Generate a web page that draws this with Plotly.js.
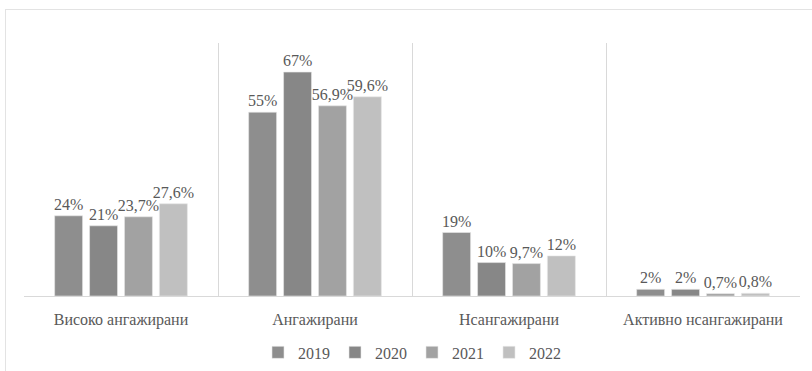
<!DOCTYPE html>
<html>
<head>
<meta charset="utf-8">
<script src="https://cdn.plot.ly/plotly-3.0.1.min.js"></script>
<style>
html,body{margin:0;padding:0;background:#fff;}
#wrap{position:absolute;left:0;top:0;width:812px;height:371px;}
#frame{position:absolute;left:5px;top:9px;width:820px;height:380px;border-left:1px solid #e3e3e3;border-top:1px solid #e3e3e3;pointer-events:none;}
#chart{position:absolute;left:0;top:0;width:812px;height:371px;}
#preload{position:absolute;left:0;top:0;font-family:'Liberation Serif';font-size:16px;color:#fff;opacity:0.01;pointer-events:none;}
</style>
</head>
<body>
<div id="preload">Високо ангажирани Нсангажирани 0123456789%,</div>
<div id="wrap"><div id="chart"></div><div id="frame"></div></div>
<script>
const categories = ["Високо ангажирани", "Ангажирани", "Нсангажирани", "Активно нсангажирани"];
const years = ["2019", "2020", "2021", "2022"];
const v2019 = [24, 55, 19, 2];
const v2020 = [21, 67, 10, 2];
const v2021 = [23.7, 56.9, 9.7, 0.7];
const v2022 = [27.6, 59.6, 12, 0.8];
const labels2019 = ["24%", "55%", "19%", "2%"];
const labels2020 = ["21%", "67%", "10%", "2%"];
const labels2021 = ["23,7%", "56,9%", "9,7%", "0,7%"];
const labels2022 = ["27,6%", "59,6%", "12%", "0,8%"];
const colors = ["#8e8e8e", "#878787", "#a2a2a2", "#c0c0c0"];

const series = [v2019, v2020, v2021, v2022];
const labels = [labels2019, labels2020, labels2021, labels2022];
const fontFamily = "Liberation Serif";
const textColor = "#595959";

const data = series.map((vals, i) => ({
  type: "bar",
  name: years[i],
  x: categories,
  y: vals,
  text: labels[i],
  textposition: "outside",
  constraintext: "none",
  cliponaxis: false,
  textfont: {family: fontFamily, size: 16, color: textColor},
  marker: {color: colors[i], line: {color: "#e8e8e8", width: 0.6}},
  hoverinfo: "none"
}));

const layout = {
  width: 812, height: 371,
  margin: {l: 24, r: 12, t: 43, b: 75, autoexpand: false},
  paper_bgcolor: "rgba(0,0,0,0)",
  plot_bgcolor: "#fff",
  barmode: "group",
  bargap: 0.28,
  bargroupgap: 0.2,
  font: {family: fontFamily, color: textColor, size: 16},
  showlegend: true,
  legend: {
    orientation: "h", x: 0.5, xanchor: "center",
    yref: "container", y: 0.05, yanchor: "middle",
    font: {family: fontFamily, size: 16, color: textColor},
    itemwidth: 30, traceorder: "normal"
  },
  xaxis: {
    type: "category",
    tickson: "boundaries",
    showgrid: true, gridcolor: "#d9d9d9", gridwidth: 1,
    showline: true, linecolor: "#d9d9d9", linewidth: 1,
    ticks: "", ticklabelstandoff: 9,
    tickfont: {family: fontFamily, size: 16, color: textColor},
    zeroline: false, fixedrange: true
  },
  yaxis: {
    range: [0, 75.7],
    showgrid: false, zeroline: false, showticklabels: false,
    ticks: "", showline: false, fixedrange: true
  },
  hovermode: false
};

function draw() {
  return Plotly.newPlot("chart", data, layout, {displayModeBar: false});
}

const fontReady = (document.fonts && document.fonts.load)
  ? document.fonts.load('16px "Liberation Serif"', "Високо 2019%").then(() => document.fonts.ready)
  : Promise.resolve();

fontReady.then(draw, draw).then(() => {
  // redraw once more so all text is set after the font is available
  return new Promise(res => setTimeout(res, 50));
}).then(() => Plotly.relayout("chart", {"font.family": fontFamily}));
</script>
</body>
</html>
